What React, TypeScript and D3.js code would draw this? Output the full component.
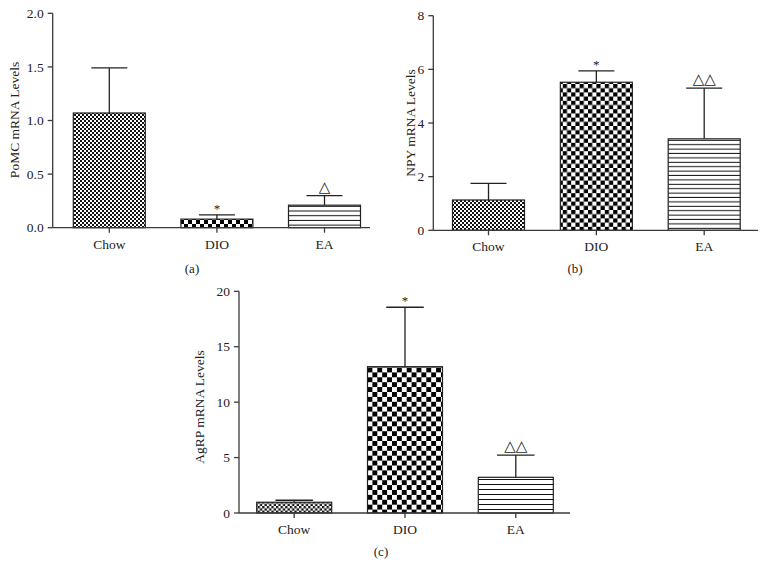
import React from 'react';
import * as d3 from 'd3';

// groups
const categories = ['Chow', 'DIO', 'EA'];

// PoMC (a)
const pomcMeans = [1.07, 0.08, 0.21];
const pomcUpper = [1.49, 0.12, 0.3];
const pomcTicks = [0, 0.5, 1.0, 1.5, 2.0];
const pomcMarks = ['', '*', '△'];

// NPY (b)
const npyMeans = [1.13, 5.52, 3.41];
const npyUpper = [1.75, 5.94, 5.3];
const npyTicks = [0, 2, 4, 6, 8];
const npyMarks = ['', '*', '△△'];

// AgRP (c)
const agrpMeans = [0.97, 13.2, 3.22];
const agrpUpper = [1.15, 18.56, 5.23];
const agrpTicks = [0, 5, 10, 15, 20];
const agrpMarks = ['', '*', '△△'];

const FONT = '"Liberation Serif", "DejaVu Serif", serif';
const AXIS = '#3a3a3a';

type PanelProps = {
  id: string;
  means: number[];
  upper: number[];
  ticks: number[];
  marks: string[];
  fmt: (v: number) => string;
  label: string;
  caption: string;
  axisX: number;
  xEnd: number;
  yZero: number;
  yTop: number;
  centers: [number, number];
  barW: number;
  labelX: number;
  labelY: number;
  captionX: number;
  captionY: number;
  chk: number;
  fine: number;
  lineGap: number;
};

const Panel = (p: PanelProps) => {
  const y = d3.scaleLinear().domain([0, p.ticks[p.ticks.length - 1]]).range([p.yZero, p.yTop]);
  const x = d3.scalePoint().domain(categories).range(p.centers);
  const fills = [`url(#fine-${p.id})`, `url(#chk-${p.id})`, `url(#lines-${p.id})`];
  const c = p.chk;
  const f = p.fine;

  return (
    <g>
      <defs>
        <pattern id={`fine-${p.id}`} width={f * 2} height={f * 2} patternUnits="userSpaceOnUse">
          <rect width={f * 2} height={f * 2} fill="#fff" />
          <rect width={f} height={f} fill="#111" />
          <rect x={f} y={f} width={f} height={f} fill="#111" />
        </pattern>
        <pattern id={`chk-${p.id}`} width={c * 2} height={c * 2} patternUnits="userSpaceOnUse">
          <rect width={c * 2} height={c * 2} fill="#fff" />
          <rect width={c} height={c} fill="#000" />
          <rect x={c} y={c} width={c} height={c} fill="#000" />
        </pattern>
        <pattern id={`lines-${p.id}`} width={10} height={p.lineGap} patternUnits="userSpaceOnUse">
          <rect width={10} height={p.lineGap} fill="#fff" />
          <line x1={0} x2={10} y1={p.lineGap - 0.5} y2={p.lineGap - 0.5} stroke="#111" strokeWidth={1} />
        </pattern>
      </defs>

      {/* error bars, drawn under the bars */}
      {categories.map((cat, i) => {
        const cx = x(cat)!;
        return (
          <g key={`err-${cat}`} stroke="#222" strokeWidth={1.3}>
            <line x1={cx} x2={cx} y1={y(p.means[i])} y2={y(p.upper[i])} />
            <line x1={cx - p.barW / 4} x2={cx + p.barW / 4} y1={y(p.upper[i])} y2={y(p.upper[i])} />
          </g>
        );
      })}

      {categories.map((cat, i) => {
        const cx = x(cat)!;
        return (
          <rect
            key={`bar-${cat}`}
            x={cx - p.barW / 2}
            y={y(p.means[i])}
            width={p.barW}
            height={y(0) - y(p.means[i])}
            fill={fills[i]}
            stroke="#222"
            strokeWidth={1.2}
          />
        );
      })}

      {categories.map((cat, i) =>
        p.marks[i] ? (
          <text
            key={`mark-${cat}`}
            x={x(cat)!}
            y={y(p.upper[i]) - (p.marks[i] === '*' ? 2 : 4)}
            textAnchor="middle"
            fontFamily={p.marks[i] === '*' ? FONT : '"DejaVu Sans", sans-serif'}
            fontSize={p.marks[i] === '*' ? 13 : 15}
            fill="#222"
          >
            {p.marks[i]}
          </text>
        ) : null
      )}

      {/* y axis */}
      <line x1={p.axisX} x2={p.axisX} y1={y(0)} y2={p.yTop} stroke={AXIS} strokeWidth={1.3} />
      {p.ticks.map(t => (
        <g key={`yt-${t}`}>
          <line x1={p.axisX - 5} x2={p.axisX} y1={y(t)} y2={y(t)} stroke={AXIS} strokeWidth={1.3} />
          <text
            x={p.axisX - 9}
            y={y(t)}
            dy="0.35em"
            textAnchor="end"
            fontFamily={FONT}
            fontSize={13.5}
            fill="#222"
          >
            {p.fmt(t)}
          </text>
        </g>
      ))}

      {/* x axis */}
      <line x1={p.axisX} x2={p.xEnd} y1={y(0)} y2={y(0)} stroke={AXIS} strokeWidth={1.3} />
      {categories.map(cat => (
        <g key={`xt-${cat}`}>
          <line x1={x(cat)!} x2={x(cat)!} y1={y(0)} y2={y(0) + 5} stroke={AXIS} strokeWidth={1.3} />
          <text x={x(cat)!} y={y(0) + 21} textAnchor="middle" fontFamily={FONT} fontSize={13.5} fill="#222">
            {cat}
          </text>
        </g>
      ))}

      <text
        transform={`translate(${p.labelX},${p.labelY}) rotate(-90)`}
        textAnchor="middle"
        fontFamily={FONT}
        fontSize={13.5}
        fill="#222"
      >
        {p.label}
      </text>
      <text x={p.captionX} y={p.captionY} textAnchor="middle" fontFamily={FONT} fontSize={13} fill="#222">
        {p.caption}
      </text>
    </g>
  );
};

const App = () => {
  return (
    <svg
      width={766}
      height={578}
      style={{ position: 'absolute', left: 0, top: 0, background: '#fff' }}
    >
      <rect width={766} height={578} fill="#fff" />
      <Panel
        id="a"
        means={pomcMeans}
        upper={pomcUpper}
        ticks={pomcTicks}
        marks={pomcMarks}
        fmt={d3.format('.1f')}
        label="PoMC mRNA Levels"
        caption="(a)"
        axisX={52.7}
        xEnd={370}
        yZero={227.7}
        yTop={13.3}
        centers={[109.3, 324.5]}
        barW={72}
        labelX={19}
        labelY={120}
        captionX={192}
        captionY={273}
        chk={4}
        fine={2}
        lineGap={4.7}
      />
      <Panel
        id="b"
        means={npyMeans}
        upper={npyUpper}
        ticks={npyTicks}
        marks={npyMarks}
        fmt={d3.format('d')}
        label="NPY mRNA Levels"
        caption="(b)"
        axisX={433.3}
        xEnd={758}
        yZero={230.3}
        yTop={15.7}
        centers={[488.5, 704.2]}
        barW={72}
        labelX={415}
        labelY={123}
        captionX={575}
        captionY={273}
        chk={4.2}
        fine={2}
        lineGap={4.4}
      />
      <Panel
        id="c"
        means={agrpMeans}
        upper={agrpUpper}
        ticks={agrpTicks}
        marks={agrpMarks}
        fmt={d3.format('d')}
        label="AgRP mRNA Levels"
        caption="(c)"
        axisX={239}
        xEnd={570}
        yZero={513}
        yTop={291.3}
        centers={[294.2, 515.8]}
        barW={75}
        labelX={204}
        labelY={407}
        captionX={381}
        captionY={556}
        chk={4.9}
        fine={2.3}
        lineGap={5}
      />
    </svg>
  );
};

export default App;
